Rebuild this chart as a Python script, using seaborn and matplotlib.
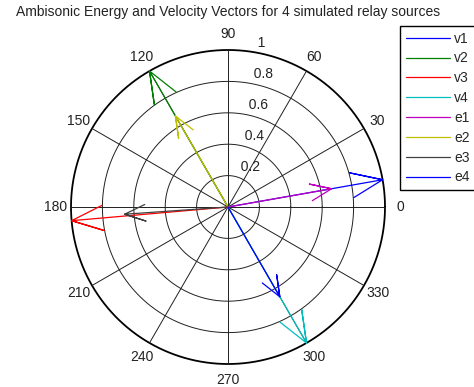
import numpy as np
import pandas as pd
import matplotlib.pyplot as plt
import seaborn as sns

# compass vectors: velocity (v) and energy (e) for each relay source
vector_names = ['v1', 'v2', 'v3', 'v4', 'e1', 'e2', 'e3', 'e4']
vector_angles_deg = [10, 120, 185, 300, 10, 120, 184, 300]
vector_magnitudes = [1.0, 1.0, 1.0, 1.0, 0.67, 0.67, 0.66, 0.66]
vector_colors = ['#0000ff', '#008000', '#ff0000', '#00bfbf',
                 '#bf00bf', '#bfbf00', '#404040', '#0000ff']

ring_values = [0.2, 0.4, 0.6, 0.8, 1.0]
ring_labels = ['0.2', '0.4', '0.6', '0.8', '1']
spoke_angles = list(range(0, 360, 30))
title = 'Ambisonic Energy and Velocity Vectors for 4 simulated relay sources'

# figure geometry (pixels): centre of the compass and radius of the unit circle
W, H = 474, 387
CX, CY, R = 228, 207, 157
FS = 10


def compass_path(angle_deg, mag):
    # same arrow shape as matlab compass(): shaft plus two barbs
    z = mag * np.exp(1j * np.deg2rad(angle_deg))
    xx = np.array([0, 1, 0.8, 1, 0.8])
    yy = np.array([0, 0, 0.08, 0, -0.08])
    arrow = (xx + 1j * yy) * z
    return arrow.real, arrow.imag


rows = []
for name, ang, mag in zip(vector_names, vector_angles_deg, vector_magnitudes):
    xs, ys = compass_path(ang, mag)
    for i, (x, y) in enumerate(zip(xs, ys)):
        rows.append({'vector': name, 'step': i, 'x': x, 'y': y})
df = pd.DataFrame(rows)

sns.set_style('white')
plt.rcParams['font.family'] = ['Liberation Sans', 'DejaVu Sans']

fig = plt.figure(figsize=(W / 100, H / 100), dpi=100)
ax = fig.add_axes([0, 0, 1, 1])
ax.set_xlim(-CX / R, (W - CX) / R)
ax.set_ylim(-(H - CY) / R, CY / R)
ax.axis('off')

# grid: rings and spokes
t = np.linspace(0, 2 * np.pi, 361)
for r in ring_values[:-1]:
    ax.plot(r * np.cos(t), r * np.sin(t), color='#202020', lw=0.7, zorder=1)
ax.plot(np.cos(t), np.sin(t), color='black', lw=1.3, zorder=1)
for a in spoke_angles[:6]:
    th = np.deg2rad(a)
    ax.plot([-np.cos(th), np.cos(th)], [-np.sin(th), np.sin(th)],
            color='#202020', lw=0.7, zorder=1)

# angle labels outside the circle
for a in spoke_angles:
    th = np.deg2rad(a)
    ax.text(1.1 * np.cos(th), 1.1 * np.sin(th), str(a),
            ha='center', va='center', fontsize=FS, color='#222222')

# radial labels along the 82 degree line
c82, s82 = np.cos(np.deg2rad(82)), np.sin(np.deg2rad(82))
for r, lab in zip(ring_values, ring_labels):
    ax.text((r + 0.01) * c82, (r + 0.01) * s82, '  ' + lab,
            ha='left', va='bottom', fontsize=FS, color='#222222')

sns.lineplot(data=df, x='x', y='y', hue='vector', hue_order=vector_names,
             palette=vector_colors, units='vector', estimator=None, sort=False,
             lw=0.9, ax=ax, zorder=3)

ax.text(0, (CY - 12) / R, title, ha='center', va='center', fontsize=FS,
        color='#222222')

sns.move_legend(ax, 'upper left', bbox_to_anchor=(400 / W, 1 - 26 / H),
                bbox_transform=fig.transFigure, title=None, frameon=True,
                fancybox=False, edgecolor='black', fontsize=FS,
                borderaxespad=0, borderpad=0.4, labelspacing=0.42,
                handlelength=3.2, handletextpad=0.3)
leg = ax.get_legend()
leg.get_frame().set_linewidth(1.0)
leg.get_frame().set_alpha(1)

fig.savefig('out.png', dpi=100)
